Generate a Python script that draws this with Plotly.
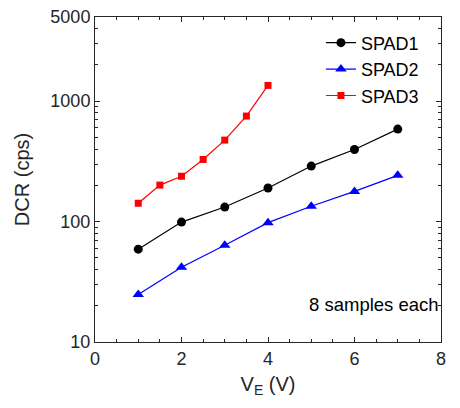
import math
import plotly.graph_objects as go

x_spad1 = [1, 2, 3, 4, 5, 6, 7]
y_spad1 = [59, 99, 132, 190, 289, 397, 586]
x_spad2 = [1, 2, 3, 4, 5, 6, 7]
y_spad2 = [24.8, 41.8, 63.7, 98, 134, 178, 242]
x_spad3 = [1, 1.5, 2, 2.5, 3, 3.5, 4]
y_spad3 = [142, 201, 238, 328, 475, 752, 1352]
y_ticks = [10, 100, 1000, 5000]
y_minor = [20, 30, 40, 50, 60, 70, 80, 90, 200, 300, 400, 500, 600, 700, 800, 900, 2000, 3000, 4000]

FONT = "Liberation Sans, Arial, sans-serif"
AX = "#262626"

fig = go.Figure()
fig.add_trace(go.Scatter(x=x_spad1, y=y_spad1, name="SPAD1", mode="lines+markers",
                         line=dict(color="black", width=1.2),
                         marker=dict(symbol="circle", size=9, color="black")))
fig.add_trace(go.Scatter(x=x_spad2, y=y_spad2, name="SPAD2", mode="lines+markers",
                         line=dict(color="#0000FF", width=1.2),
                         marker=dict(symbol="triangle-up", size=10, color="#0000FF")))
fig.add_trace(go.Scatter(x=x_spad3, y=y_spad3, name="SPAD3", mode="lines+markers",
                         line=dict(color="#FF0000", width=1.2),
                         marker=dict(symbol="square", size=7, color="#FF0000")))

fig.update_layout(
    width=452, height=400,
    margin=dict(l=87, r=19, t=9, b=66, autoexpand=False),
    paper_bgcolor="white", plot_bgcolor="white",
    font=dict(family=FONT, size=18, color="#262626"),
    showlegend=True,
    legend=dict(x=0.653, y=0.977, xanchor="left", yanchor="top",
                bgcolor="rgba(0,0,0,0)", font=dict(size=18, color="black"),
                tracegroupgap=0, itemwidth=30),
    annotations=[dict(text="8 samples each", x=1.0, y=0.114, xref="paper", yref="paper",
                      xanchor="right", yanchor="middle", showarrow=False,
                      font=dict(size=18.5, color="black"))],
)
fig.update_xaxes(
    range=[0, 8], tickvals=[0, 2, 4, 6, 8], ticks="inside", ticklen=5, tickcolor=AX,
    showline=True, linecolor=AX, linewidth=1, mirror="ticks", showgrid=False, zeroline=False,
    minor=dict(dtick=0.5, tick0=0, ticks="inside", ticklen=3, tickcolor=AX, showgrid=False),
    title=dict(text="V<sub>E</sub> (V)", font=dict(size=20), standoff=9),
    tickfont=dict(size=18), automargin=False, ticklabeloverflow="allow",
)
fig.update_yaxes(
    type="log", range=[1, math.log10(5000) + 1e-6], tickvals=y_ticks, ticktext=[str(v) for v in y_ticks],
    ticks="inside", ticklen=5, tickcolor=AX,
    showline=True, linecolor=AX, linewidth=1, mirror="ticks", showgrid=False, zeroline=False,
    minor=dict(tickvals=y_minor, ticks="inside", ticklen=3, tickcolor=AX, showgrid=False),
    title=dict(text="DCR (cps)", font=dict(size=20), standoff=15),
    tickfont=dict(size=18), automargin=False, ticklabeloverflow="allow",
)

fig.write_html("out.html")
